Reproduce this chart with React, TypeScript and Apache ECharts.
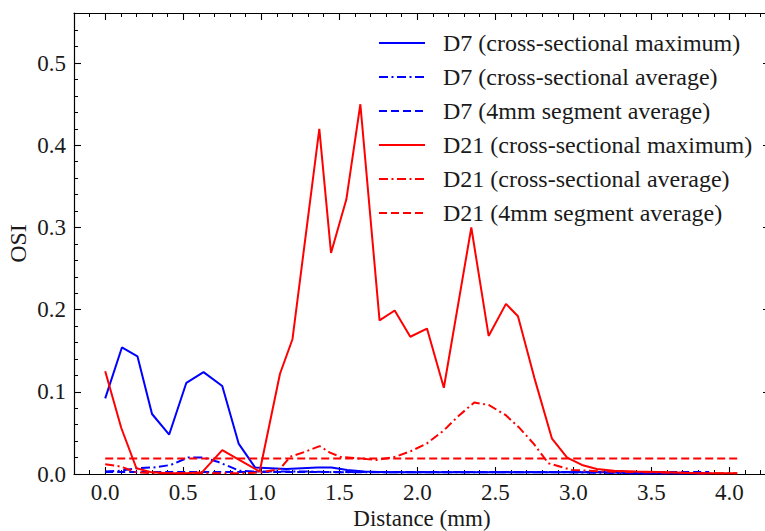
import React, { useEffect, useRef } from "react";
import * as echarts from "echarts";

// D7 cross-sectional maximum
const d7MaxX = [0, 0.107, 0.207, 0.3, 0.41, 0.52, 0.63, 0.75, 0.855, 0.96, 1.06, 1.16, 1.26, 1.36, 1.45, 1.55, 1.66, 1.8, 2.0, 2.2, 2.4, 2.6, 2.8, 3.0, 3.2, 3.4, 3.6, 3.87];
const d7MaxY = [0.092, 0.154, 0.143, 0.073, 0.048, 0.111, 0.124, 0.107, 0.037, 0.008, 0.007, 0.006, 0.007, 0.008, 0.008, 0.005, 0.003, 0.002, 0.002, 0.002, 0.002, 0.002, 0.002, 0.002, 0.002, 0.001, 0.001, 0.001];
// D7 cross-sectional average
const d7AvgX = [0, 0.1, 0.2, 0.31, 0.42, 0.53, 0.63, 0.72, 0.86, 0.96, 1.1, 1.3, 1.5, 1.8, 2.2, 2.6, 3.0, 3.4, 3.87];
const d7AvgY = [0.003, 0.004, 0.007, 0.008, 0.011, 0.02, 0.02, 0.015, 0.004, 0.003, 0.003, 0.003, 0.002, 0.002, 0.002, 0.002, 0.002, 0.001, 0.001];
// D7 4mm segment average
const d7SegX = [0, 3.87];
const d7SegY = [0.0025, 0.0025];
// D21 cross-sectional maximum
const d21MaxX = [0, 0.103, 0.2, 0.3, 0.41, 0.52, 0.62, 0.75, 0.87, 0.99, 1.12, 1.2, 1.372, 1.447, 1.545, 1.635, 1.758, 1.855, 1.955, 2.062, 2.17, 2.346, 2.457, 2.568, 2.645, 2.75, 2.863, 2.96, 3.055, 3.15, 3.26, 3.4, 3.6, 3.8, 4.05];
const d21MaxY = [0.125, 0.056, 0.007, 0.002, 0.001, 0.001, 0.002, 0.029, 0.016, 0.003, 0.122, 0.164, 0.42, 0.269, 0.334, 0.45, 0.187, 0.199, 0.167, 0.177, 0.105, 0.3, 0.168, 0.207, 0.192, 0.117, 0.043, 0.02, 0.011, 0.006, 0.004, 0.003, 0.002, 0.001, 0.001];
// D21 cross-sectional average
const d21AvgX = [0, 0.1, 0.2, 0.3, 0.5, 0.7, 0.9, 1.0, 1.12, 1.185, 1.28, 1.374, 1.44, 1.506, 1.62, 1.74, 1.86, 1.96, 2.06, 2.17, 2.26, 2.365, 2.457, 2.564, 2.65, 2.745, 2.84, 2.99, 3.2, 3.5, 3.8, 4.05];
const d21AvgY = [0.012, 0.009, 0.002, 0.001, 0.001, 0.001, 0.001, 0.002, 0.006, 0.021, 0.027, 0.034, 0.026, 0.021, 0.019, 0.017, 0.021, 0.028, 0.037, 0.053, 0.07, 0.087, 0.084, 0.072, 0.057, 0.037, 0.013, 0.005, 0.003, 0.002, 0.001, 0.001];
// D21 4mm segment average
const d21SegX = [0, 4.05];
const d21SegY = [0.019, 0.019];

const seriesNames = [
  "D7 (cross-sectional maximum)",
  "D7 (cross-sectional average)",
  "D7 (4mm segment average)",
  "D21 (cross-sectional maximum)",
  "D21 (cross-sectional average)",
  "D21 (4mm segment average)",
];

const xMajorTicks = [0, 0.5, 1.0, 1.5, 2.0, 2.5, 3.0, 3.5, 4.0];
const xMinorTicks = [-0.1, 0.1, 0.2, 0.3, 0.4, 0.6, 0.7, 0.8, 0.9, 1.1, 1.2, 1.3, 1.4, 1.6, 1.7, 1.8, 1.9, 2.1, 2.2, 2.3, 2.4, 2.6, 2.7, 2.8, 2.9, 3.1, 3.2, 3.3, 3.4, 3.6, 3.7, 3.8, 3.9, 4.1, 4.2];
const yMajorTicks = [0, 0.1, 0.2, 0.3, 0.4, 0.5];
const yMinorTicks = [0.02, 0.04, 0.06, 0.08, 0.12, 0.14, 0.16, 0.18, 0.22, 0.24, 0.26, 0.28, 0.32, 0.34, 0.36, 0.38, 0.42, 0.44, 0.46, 0.48, 0.52, 0.54];

const X_MIN = -0.2;
const X_MAX = 4.26;
const Y_MIN = 0;
const Y_MAX = 0.561;

const FONT = "Liberation Serif";
const BLUE = "#0000ff";
const RED = "#ff0000";
const DASH = [8, 4];
const DASHDOT = [9, 3.5, 2, 3.5];

const zip = (xs: number[], ys: number[]) => xs.map((x, i) => [x, ys[i]]);

export default function App() {
  const ref = useRef<HTMLDivElement>(null);
  useEffect(() => {
    if (!ref.current) return;
    const chart = echarts.init(ref.current, undefined, { renderer: "svg" });
    const axisLine = { show: true, onZero: false, lineStyle: { color: "#000", width: 1.2 } };
    const noLine = { show: false, onZero: false };
    const xCommon = { type: "value", min: X_MIN, max: X_MAX, splitLine: { show: false } };
    const yCommon = { type: "value", min: Y_MIN, max: Y_MAX, splitLine: { show: false } };
    const major = (vals: number[]) => ({ show: true, inside: true, length: 7, customValues: vals, lineStyle: { color: "#000", width: 1.1 } });
    const minor = (vals: number[]) => ({ show: true, inside: true, length: 4, customValues: vals, lineStyle: { color: "#000", width: 1 } });
    const mkLine = (name: string, data: number[][], color: string, type: any) => ({
      name,
      type: "line",
      data,
      xAxisIndex: 0,
      yAxisIndex: 0,
      symbol: "none",
      showSymbol: false,
      lineStyle: { color, width: 2, type },
      itemStyle: { color },
      emphasis: { disabled: true },
    });
    chart.setOption({
      animation: false,
      backgroundColor: "#fff",
      textStyle: { fontFamily: FONT },
      grid: { left: 74, right: -5, top: 13, bottom: 57, containLabel: false, outerBoundsMode: "none" },
      legend: {
        orient: "vertical",
        left: 378,
        top: 31,
        padding: 0,
        itemWidth: 46,
        itemHeight: 14,
        itemGap: 10,
        data: seriesNames,
        itemStyle: { opacity: 0 },
        textStyle: { fontFamily: FONT, fontSize: 24, color: "#1a1a1a", lineHeight: 24, padding: [0, 0, 0, 13] },
        selectedMode: false,
      },
      xAxis: [
        {
          ...xCommon,
          position: "bottom",
          axisLine,
          axisTick: major(xMajorTicks),
          axisLabel: { customValues: xMajorTicks, formatter: (v: number) => v.toFixed(1), fontSize: 23, color: "#1a1a1a", fontFamily: FONT, margin: 7 },
          name: "Distance (mm)",
          nameLocation: "middle",
          nameGap: 33,
          nameMoveOverlap: false,
          nameTextStyle: { fontSize: 23, color: "#1a1a1a", fontFamily: FONT, lineHeight: 23 },
        },
        { ...xCommon, position: "bottom", axisLine: noLine, axisTick: minor(xMinorTicks), axisLabel: { show: false } },
        { ...xCommon, position: "top", axisLine, axisTick: major(xMajorTicks), axisLabel: { show: false } },
        { ...xCommon, position: "top", axisLine: noLine, axisTick: minor(xMinorTicks), axisLabel: { show: false } },
      ],
      yAxis: [
        {
          ...yCommon,
          position: "left",
          axisLine,
          axisTick: major(yMajorTicks),
          axisLabel: { customValues: yMajorTicks, formatter: (v: number) => v.toFixed(1), fontSize: 23, color: "#1a1a1a", fontFamily: FONT, margin: 8 },
          name: "OSI",
          nameLocation: "middle",
          nameGap: 44,
          nameMoveOverlap: false,
          nameTextStyle: { fontSize: 24, color: "#1a1a1a", fontFamily: FONT },
        },
        { ...yCommon, position: "left", axisLine: noLine, axisTick: minor(yMinorTicks), axisLabel: { show: false } },
        { ...yCommon, position: "right", axisLine, axisTick: major(yMajorTicks), axisLabel: { show: false } },
        { ...yCommon, position: "right", axisLine: noLine, axisTick: minor(yMinorTicks), axisLabel: { show: false } },
      ],
      series: [
        mkLine(seriesNames[0], zip(d7MaxX, d7MaxY), BLUE, "solid"),
        mkLine(seriesNames[1], zip(d7AvgX, d7AvgY), BLUE, DASHDOT),
        mkLine(seriesNames[2], zip(d7SegX, d7SegY), BLUE, DASH),
        mkLine(seriesNames[3], zip(d21MaxX, d21MaxY), RED, "solid"),
        mkLine(seriesNames[4], zip(d21AvgX, d21AvgY), RED, DASHDOT),
        mkLine(seriesNames[5], zip(d21SegX, d21SegY), RED, DASH),
      ],
    });
    return () => chart.dispose();
  }, []);
  return (
    <div
      ref={ref}
      style={{ position: "fixed", left: 0, top: 0, width: 765, height: 531, background: "#fff" }}
    />
  );
}
